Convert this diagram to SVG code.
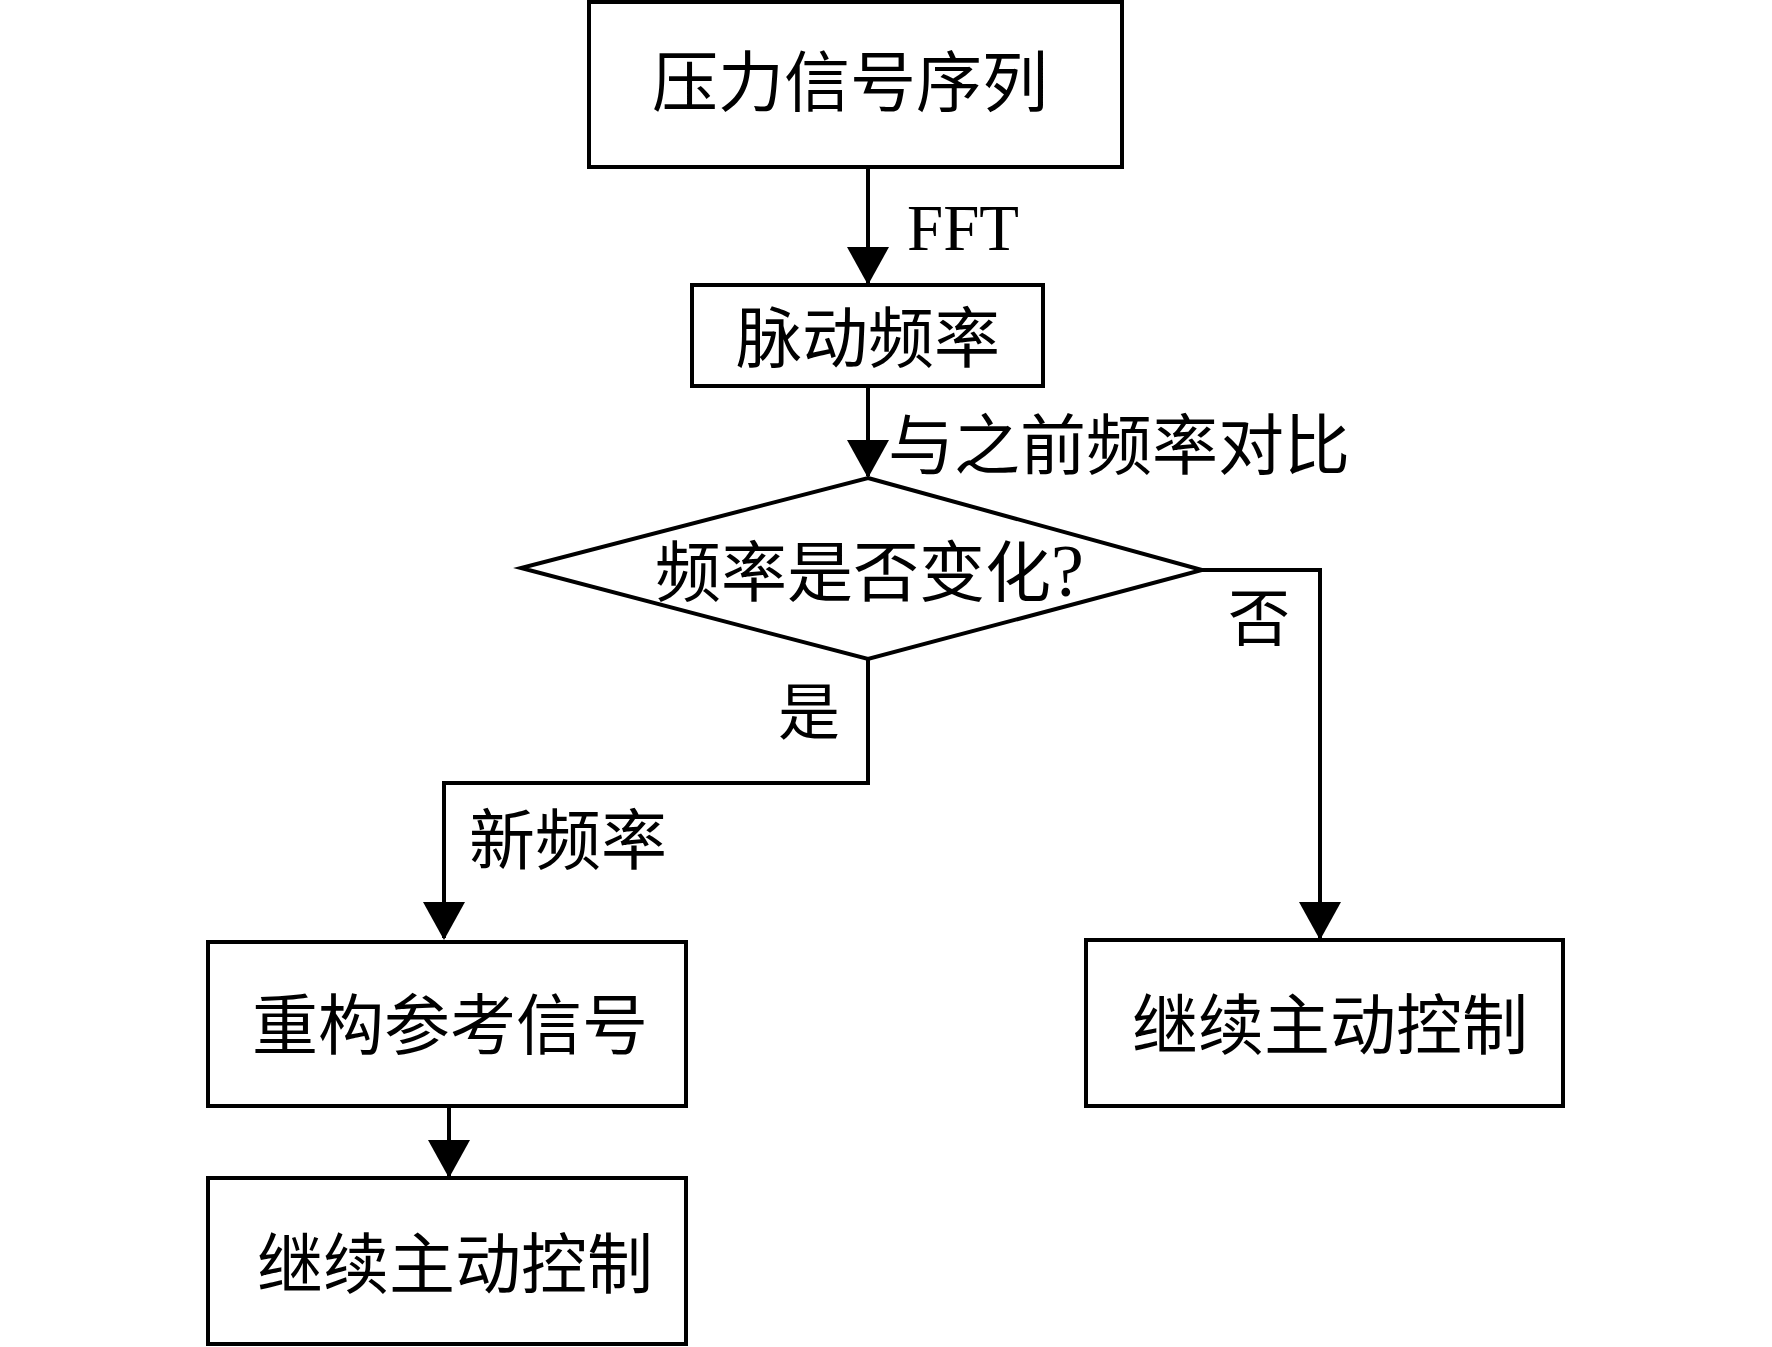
<svg xmlns="http://www.w3.org/2000/svg" width="1772" height="1347" viewBox="0 0 1772 1347">
<style>
.box{fill:#fff;stroke:#000;stroke-width:4}
.conn{fill:none;stroke:#000;stroke-width:4;marker-end:url(#ah)}
text{font-family:"Liberation Serif","Noto Sans CJK SC",serif;fill:#000}
.t{font-size:66px}
.lb{font-size:62px}
</style>
<defs>
<marker id="ah" markerUnits="userSpaceOnUse" markerWidth="38" markerHeight="42" refX="36" refY="21" orient="auto" viewBox="0 0 38 42">
<path d="M0,0 L38,21 L0,42 z" fill="#000"/>
</marker>
</defs>
<rect width="1772" height="1347" fill="#fff"/>
<g id="connectors">
<polyline class="conn" points="868,167 868,283"/>
<polyline class="conn" points="868,386 868,476"/>
<polyline class="conn" points="868,659 868,783 444,783 444,938"/>
<polyline class="conn" points="1202,570 1320,570 1320,938"/>
<polyline class="conn" points="449,1106 449,1176"/>
<text x="907" y="250" style="font-size:65px">FFT</text>
<text class="t" x="888" y="469">与之前频率对比</text>
<text class="lb" x="1228" y="641">否</text>
<text class="lb" x="778" y="735">是</text>
<text class="t" x="469" y="864">新频率</text>
</g>
<g id="n1">
<rect class="box" x="589" y="2" width="533" height="165"/>
<text class="t" x="850" y="106" text-anchor="middle">压力信号序列</text>
</g>
<g id="n2">
<rect class="box" x="692" y="285" width="351" height="101"/>
<text class="t" x="868" y="362" text-anchor="middle">脉动频率</text>
</g>
<g id="n3">
<polygon class="box" points="868,478 1202,570 868,659 521,568"/>
<text class="t" x="655" y="596">频率是否变化<tspan style="font-size:74px">?</tspan></text>
</g>
<g id="n4">
<rect class="box" x="208" y="942" width="478" height="164"/>
<text class="t" x="450" y="1049" text-anchor="middle">重构参考信号</text>
</g>
<g id="n5">
<rect class="box" x="208" y="1178" width="478" height="166"/>
<text class="t" x="455" y="1288" text-anchor="middle">继续主动控制</text>
</g>
<g id="n6">
<rect class="box" x="1086" y="940" width="477" height="166"/>
<text class="t" x="1330" y="1049" text-anchor="middle">继续主动控制</text>
</g>
</svg>
